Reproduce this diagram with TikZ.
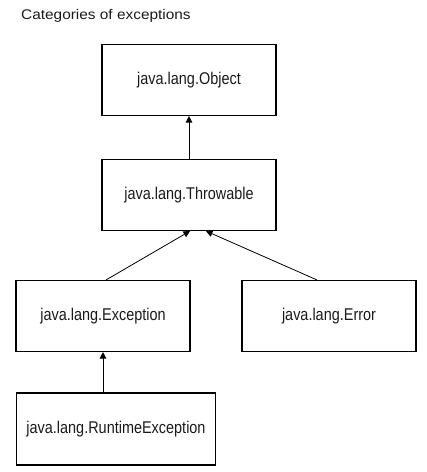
\documentclass[tikz,border=0pt]{standalone}
\usepackage{fontspec}
\setmainfont{Liberation Sans}
\newfontfamily\boxfont[FakeStretch=0.85]{Liberation Sans}
\newfontfamily\titlefont[FakeStretch=1.1]{Liberation Sans}
\usetikzlibrary{arrows.meta}
\definecolor{inkgray}{HTML}{1A1A1A}

\begin{document}
\begin{tikzpicture}[x=1pt,y=1pt]
\tikzstyle{every node}+=[inner sep=0pt]
\tikzstyle{classbox}=[draw=black, line width=1.1pt, minimum width=174pt, minimum height=71pt, font=\boxfont\fontsize{17}{19}\selectfont, text=inkgray]
\tikzstyle{isa}=[draw=black, line width=0.8pt, -{Triangle[length=6.5pt,width=6.5pt]}]
\useasboundingbox (0,0) rectangle (427,-472);
\node [anchor=west, text=inkgray, font=\titlefont\fontsize{14}{16}\selectfont] (title) at (21,-16) {Categories of exceptions};
\node [classbox] (object) at (189,-80) {java.lang.Object};
\node [classbox] (throwable) at (189,-195) {java.lang.Throwable};
\node [classbox] (exception) at (103,-316) {java.lang.Exception};
\node [classbox] (error) at (329,-316) {java.lang.Error};
\node [classbox, minimum width=199pt, minimum height=72pt] (runtime) at (116,-429) {java.lang.RuntimeException};
\draw [isa] (throwable.north) -- (object.south);
\draw [isa] ([xshift=3pt]exception.north) -- ([xshift=1pt]throwable.south);
\draw [isa] ([xshift=-12pt]error.north) -- ([xshift=17pt]throwable.south);
\draw [isa] (runtime.north -| exception.south) -- (exception.south);
\end{tikzpicture}
\end{document}
